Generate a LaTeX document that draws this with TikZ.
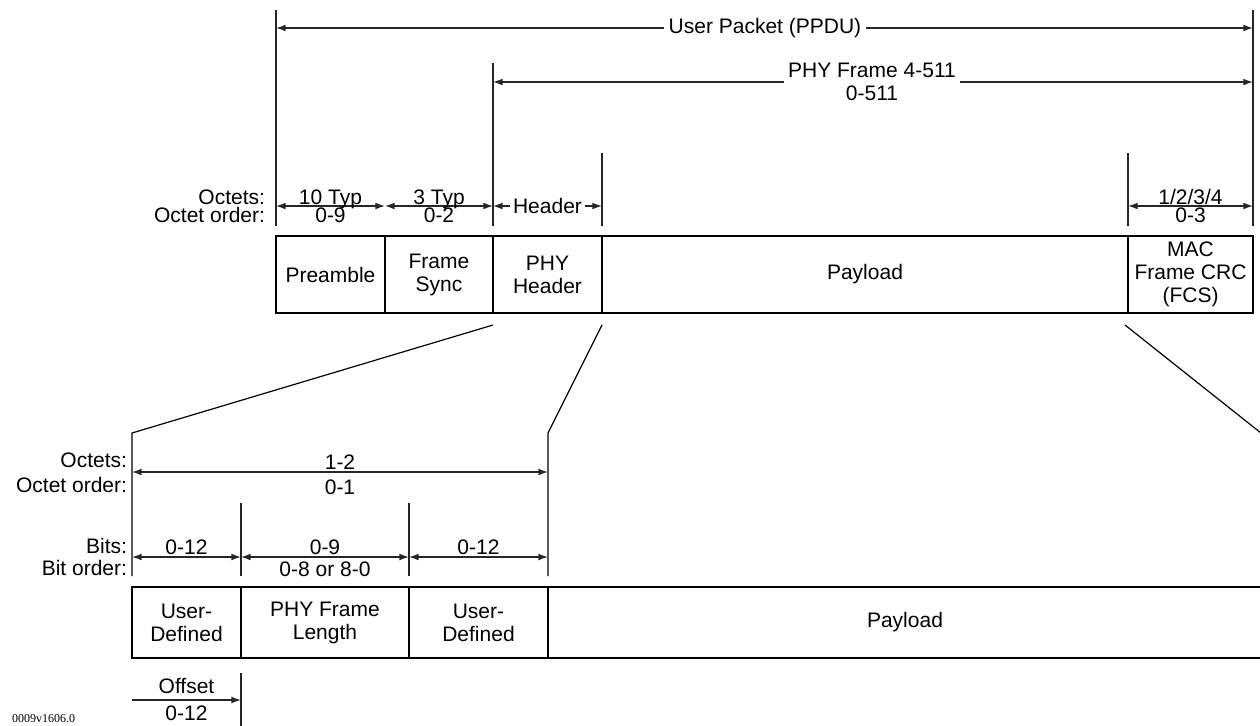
\documentclass[tikz,border=0pt]{standalone}
\usepackage{fontspec}
\setmainfont{Liberation Sans}
\newfontfamily\tagfont{Liberation Serif}
\usetikzlibrary{arrows.meta}
\begin{document}
\begin{tikzpicture}[x=0.5pt,y=-0.5pt,
  font=\fontsize{10.5}{11.5}\selectfont,
  every node/.style={inner sep=0pt, outer sep=0pt},
  ext/.style={line width=0.55pt, black!85},
  tipL/.style={line width=0.65pt, black!85, {Latex[length=4.8pt,width=3.4pt]}-},
  tipR/.style={line width=0.65pt, black!85, -{Latex[length=4.8pt,width=3.4pt]}},
  tipLR/.style={line width=0.65pt, black!85, {Latex[length=4.8pt,width=3.4pt]}-{Latex[length=4.8pt,width=3.4pt]}},
  cell/.style={draw, line width=1.25pt, align=center},
  topcell/.style={cell, minimum height=38.5pt},
  botcell/.style={cell, minimum height=35.5pt},
  zoomline/.style={line width=0.6pt},
  dimtxt/.style={anchor=base},
  sidetxt/.style={anchor=base east},
]
\path[use as bounding box] (0,0) rectangle (1260,725);
\clip (0,0) rectangle (1260,725);

% ---------- top extension lines
\coordinate (tA1) at (276,10);   \coordinate (tA2) at (276,226);
\coordinate (tB1) at (493,63);   \coordinate (tB2) at (493,226);
\coordinate (tC1) at (602,153);  \coordinate (tC2) at (602,226);
\coordinate (tD1) at (1128,153); \coordinate (tD2) at (1128,226);
\coordinate (tE1) at (1253,10);  \coordinate (tE2) at (1253,226);
\foreach \n in {A,B,C,D,E} \draw[ext] (t\n1) -- (t\n2);

% ---------- User packet
\node[inner xsep=2.5pt] (up) at (765,28) {User Packet (PPDU)};
\draw[tipL] (tA1|-up) -- (up.west);
\draw[tipR] (up.east) -- (tE1|-up);

% ---------- PHY frame
\node[align=center, inner xsep=2pt] (pf) at (872,82) {PHY Frame 4-511\\0-511};
\draw[tipL] (tB1|-pf) -- (pf.west);
\draw[tipR] (pf.east) -- (tE1|-pf);

% ---------- top dimension row
\coordinate (r0) at (276,206);
\coordinate (r1) at (385,206);
\coordinate (r2) at (493,206);
\coordinate (r3) at (602,206);
\coordinate (r4) at (1128,206);
\coordinate (r5) at (1253,206);
\draw[tipLR] (r0) -- (r1);
\draw[tipLR] (r1) -- (r2);
\draw[tipLR] (r4) -- (r5);
\node[dimtxt] (t10) at (330.5,204) {10 Typ};
\node[dimtxt] (t09) at (330.5,222) {0-9};
\node[dimtxt] (t3) at (439,204) {3 Typ};
\node[dimtxt] (t02) at (439,222) {0-2};
\node[dimtxt] (t14) at (1190.5,204) {1/2/3/4};
\node[dimtxt] (t03) at (1190.5,222) {0-3};
\node[inner xsep=1.5pt] (hd) at (547.5,206) {Header};
\draw[tipL] (r2) -- (hd.west);
\draw[tipR] (hd.east) -- (r3);
\node[sidetxt] (lo1) at (265,204) {Octets:};
\node[sidetxt] (lo2) at (265,222.5) {Octet order:};

% ---------- top frame
\node[topcell, minimum width=54.5pt] (pre) at (330.5,274.5) {Preamble};
\node[topcell, minimum width=54pt] (fs) at (439,274.5) {Frame\\Sync};
\node[topcell, minimum width=54.5pt] (phyh) at (547.5,274.5) {PHY\\Header};
\node[topcell, minimum width=263pt] (pay) at (865,274.5) {Payload};
\node[topcell, minimum width=62.5pt] (mac) at (1190.5,274.5) {MAC\\Frame CRC\\(FCS)};

% ---------- zoom lines
\coordinate (zl0) at (493,325); \coordinate (zl1) at (132,433); \coordinate (zl2) at (132,576);
\coordinate (zr0) at (602,325); \coordinate (zr1) at (548,433); \coordinate (zr2) at (548,576);
\coordinate (zf0) at (1125,325); \coordinate (zf1) at (1266,437);
\draw[zoomline] (zl0) -- (zl1) -- (zl2);
\draw[zoomline] (zr0) -- (zr1) -- (zr2);
\draw[zoomline] (zf0) -- (zf1);

% ---------- bottom dimension lines
\coordinate (b1t) at (241,503); \coordinate (b1b) at (241,576);
\coordinate (b2t) at (409,503); \coordinate (b2b) at (409,576);
\draw[ext] (b1t) -- (b1b);
\draw[ext] (b2t) -- (b2b);

\coordinate (q0) at (132,472); \coordinate (q1) at (548,472);
\draw[tipLR] (q0) -- (q1);
\node[dimtxt] (o12) at (340,469) {1-2};
\node[dimtxt] (o01) at (340,494) {0-1};
\node[sidetxt] (lb1) at (127,467) {Octets:};
\node[sidetxt] (lb2) at (127,492) {Octet order:};

\coordinate (s0) at (132,557); \coordinate (s1) at (241,557);
\coordinate (s2) at (409,557); \coordinate (s3) at (548,557);
\draw[tipLR] (s0) -- (s1);
\draw[tipLR] (s1) -- (s2);
\draw[tipLR] (s2) -- (s3);
\node[dimtxt] (bA) at (186.5,554) {0-12};
\node[dimtxt] (bB) at (325,554) {0-9};
\node[dimtxt] (bBo) at (325,576) {0-8 or 8-0};
\node[dimtxt] (bC) at (478.5,554) {0-12};
\node[sidetxt] (lb3) at (127,553) {Bits:};
\node[sidetxt] (lb4) at (127,575) {Bit order:};

% ---------- bottom frame
\node[botcell, minimum width=54.5pt] (ud1) at (186.5,622.5) {User-\\Defined};
\node[botcell, minimum width=84pt] (pfl) at (325,622.5) {PHY Frame\\Length};
\node[botcell, minimum width=69.5pt] (ud2) at (478.5,622.5) {User-\\Defined};
\node[botcell, minimum width=357pt] (pay2) at (905,622.5) {Payload};

% ---------- offset
\coordinate (of1) at (241,673); \coordinate (of2) at (241,730);
\draw[ext] (of1) -- (of2);
\coordinate (oa0) at (132,700); \coordinate (oa1) at (241,700);
\draw[tipR] (oa0) -- (oa1);
\node[dimtxt] (off) at (186.5,693) {Offset};
\node[dimtxt] (off2) at (186.5,720) {0-12};

\node[anchor=base west, font=\tagfont\fontsize{6}{7}\selectfont] (tag) at (12,722) {0009v1606.0};
\end{tikzpicture}
\end{document}
